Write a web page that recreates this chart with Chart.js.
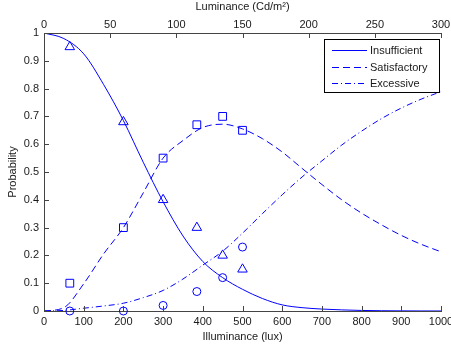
<!DOCTYPE html>
<html><head><meta charset="utf-8">
<script src="https://cdn.jsdelivr.net/npm/chart.js@4.4.0/dist/chart.umd.min.js"></script>
<style>html,body{margin:0;padding:0;background:#fff;overflow:hidden}</style>
</head><body>
<canvas id="c" width="451" height="354"></canvas>
<script>
// ---- data ----
const curveX = [0,50,100,150,200,250,300,350,400,450,500,550,600,650,700,750,800,850,900,950,1000];
const insufficientCurve = [1.0,0.98,0.925,0.815,0.685,0.535,0.393,0.27,0.178,0.12,0.078,0.045,0.022,0.012,0.007,0.004,0.002,0.001,0.0005,0.0002,0.0001];
const satisfactoryCurve = [0,0.012,0.098,0.205,0.30,0.425,0.55,0.613,0.66,0.672,0.655,0.62,0.572,0.513,0.455,0.40,0.352,0.31,0.272,0.24,0.213];
const excessiveCurve = [0,0.002,0.01,0.018,0.028,0.048,0.074,0.115,0.165,0.215,0.28,0.35,0.418,0.482,0.54,0.597,0.647,0.692,0.73,0.762,0.789];

const obsX = [65,200,300,385,450,500];
const obsInsufficient = [0.95,0.68,0.40,0.30,0.20,0.15];
const obsSatisfactory = [0.10,0.30,0.55,0.67,0.70,0.65];
const obsExcessive = [0.00,0.00,0.02,0.07,0.12,0.23];

const seriesNames = ['Insufficient','Satisfactory','Excessive'];
const illuminanceTicks = [0,100,200,300,400,500,600,700,800,900,1000];
const luminanceTicks = [0,50,100,150,200,250,300];
const probabilityTicks = [0,0.1,0.2,0.3,0.4,0.5,0.6,0.7,0.8,0.9,1];

// ---- styles ----
const BLUE = '#0000ff';
const AXIS = '#444444';
const TEXT = '#1a1a1a';
const FONT = {family:'"Liberation Sans", Arial, sans-serif', size:11};
Chart.defaults.font.family = FONT.family;
Chart.defaults.font.size = 11;

const pts = (xs, ys) => xs.map((x,i)=>({x:x, y:ys[i]}));

function curveDS(label, ys, dash){
  return {type:'line', label, inLegend:true, data:pts(curveX, ys), borderColor:BLUE, borderWidth:1,
    borderDash:dash, pointRadius:0, cubicInterpolationMode:'monotone', fill:false, xAxisID:'x', yAxisID:'y'};
}
function markDS(label, ys, style, r){
  return {type:'scatter', label, data:pts(obsX, ys), showLine:false, pointStyle:style, pointRadius:r,
    pointHoverRadius:r, pointBorderColor:BLUE, pointBackgroundColor:'rgba(0,0,0,0)', pointBorderWidth:1,
    clip:false, xAxisID:'x', yAxisID:'y'};
}

const innerTicks = {
  id:'innerTicks',
  afterDraw(chart){
    const {ctx, chartArea:a, scales} = chart;
    ctx.save(); ctx.strokeStyle = AXIS; ctx.lineWidth = 1; ctx.beginPath();
    scales.x.ticks.forEach(t=>{const p=Math.round(scales.x.getPixelForValue(t.value))+0.5; ctx.moveTo(p,a.bottom); ctx.lineTo(p,a.bottom-5);});
    scales.x2.ticks.forEach(t=>{const p=Math.round(scales.x2.getPixelForValue(t.value))+0.5; ctx.moveTo(p,a.top); ctx.lineTo(p,a.top+5);});
    scales.y.ticks.forEach(t=>{const p=Math.round(scales.y.getPixelForValue(t.value))+0.5; ctx.moveTo(a.left,p); ctx.lineTo(a.left+5,p);});
    ctx.stroke(); ctx.restore();
  }
};

const legendBox = {
  id:'legendBox',
  afterDraw(chart){
    const {ctx, chartArea:a} = chart;
    const items = chart.data.datasets.filter(d=>d.inLegend);
    const x0 = a.right-117, y0 = a.top+6, w = 116, h = 54;
    ctx.save();
    ctx.fillStyle = '#fff'; ctx.fillRect(x0,y0,w,h);
    ctx.strokeStyle = '#000'; ctx.lineWidth = 1; ctx.strokeRect(x0+0.5,y0+0.5,w-1,h-1);
    items.forEach((d,i)=>{
      const y = Math.round(y0 + 11 + i*16.5) + 0.5;
      ctx.beginPath(); ctx.setLineDash(d.borderDash||[]); ctx.strokeStyle = d.borderColor;
      ctx.moveTo(x0+8,y); ctx.lineTo(x0+43,y); ctx.stroke(); ctx.setLineDash([]);
      ctx.fillStyle = TEXT; ctx.font = '11px ' + FONT.family; ctx.textBaseline = 'middle'; ctx.textAlign='left';
      ctx.fillText(d.label, x0+46, y);
    });
    ctx.restore();
  }
};

const setTicks = arr => scale => { scale.ticks = arr.map(v=>({value:v})); };

new Chart(document.getElementById('c'), {
  data:{datasets:[
    curveDS(seriesNames[0], insufficientCurve, []),
    curveDS(seriesNames[1], satisfactoryCurve, [7,4]),
    curveDS(seriesNames[2], excessiveCurve, [6,3,1,3]),
    markDS(seriesNames[0]+' data', obsInsufficient, 'triangle', 5.5),
    markDS(seriesNames[1]+' data', obsSatisfactory, 'rect', 5.5),
    markDS(seriesNames[2]+' data', obsExcessive, 'circle', 4)
  ]},
  options:{
    responsive:false, devicePixelRatio:1, animation:false,
    layout:{padding:{left:0,right:10,top:0,bottom:0}},
    plugins:{legend:{display:false}, tooltip:{enabled:false}},
    scales:{
      x:{type:'linear', position:'bottom', min:0, max:1000,
        afterBuildTicks:setTicks(illuminanceTicks),
        ticks:{padding:4, color:TEXT, font:FONT, maxRotation:0, autoSkip:false, callback:v=>String(v)},
        grid:{display:false, drawTicks:false}, border:{display:true, color:AXIS, width:1},
        title:{display:true, text:'Illuminance (lux)', color:TEXT, font:FONT, padding:{top:0,bottom:10}},
        afterFit(s){ s.height = 43; s.paddingLeft = 0; s.paddingRight = 0; }},
      x2:{type:'linear', position:'top', min:0, max:300,
        afterBuildTicks:setTicks(luminanceTicks),
        ticks:{padding:1, color:TEXT, font:FONT, maxRotation:0, autoSkip:false, callback:v=>String(v)},
        grid:{display:false, drawTicks:false}, border:{display:true, color:AXIS, width:1},
        title:{display:true, text:'Luminance (Cd/m²)', color:TEXT, font:FONT, padding:{top:0,bottom:0}},
        afterFit(s){ s.height = 33; s.paddingLeft = 0; s.paddingRight = 0; }},
      y:{type:'linear', position:'left', min:0, max:1,
        afterBuildTicks:setTicks(probabilityTicks),
        ticks:{padding:5, color:TEXT, font:FONT, autoSkip:false, callback:v=>String(v)},
        grid:{display:false, drawTicks:false}, border:{display:true, color:AXIS, width:1},
        title:{display:true, text:'Probability', color:TEXT, font:FONT, padding:{top:6,bottom:0}},
        afterFit(s){ s.width = 44; s.paddingTop = 0; s.paddingBottom = 0; }}
    }
  },
  plugins:[innerTicks, legendBox]
});
</script>
</body></html>
